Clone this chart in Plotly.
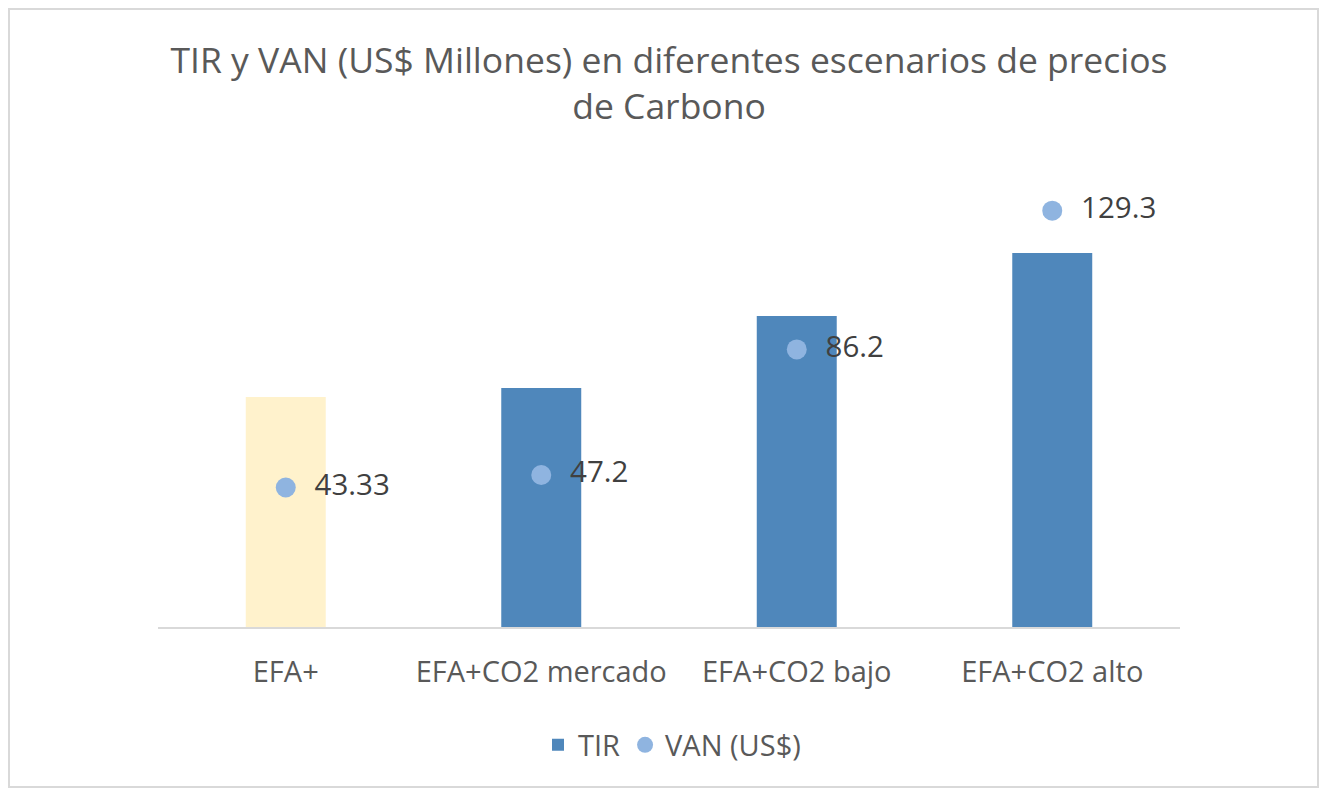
import plotly.graph_objects as go

categories = ["EFA+", "EFA+CO2 mercado", "EFA+CO2 bajo", "EFA+CO2 alto"]
tir_values = [11.5, 11.95, 15.55, 18.7]
van_values = [43.33, 47.2, 86.2, 129.3]
van_labels = ["\u00a0\u00a043.33", "\u00a0\u00a047.2", "\u00a0\u00a086.2", "\u00a0\u00a0129.3"]

# page offset from default body margin
OFF = 8
W, H = 1327 - 2 * OFF, 796 - 2 * OFF
ML = 158 - OFF
MT = 150 - OFF
PW = 1180 - 158
PH = 627 - 150
MR = W - ML - PW
MB = H - MT - PH

fig = go.Figure()
fig.add_trace(go.Bar(
    x=categories[:1], y=tir_values[:1], name="TIR", showlegend=False,
    marker=dict(color="#FFF2CC", line=dict(width=0)), yaxis="y",
))
fig.add_trace(go.Bar(
    x=categories[1:], y=tir_values[1:], name="TIR",
    marker=dict(color="#4F87BB", line=dict(width=0)), yaxis="y",
))
fig.add_trace(go.Scatter(
    x=categories, y=van_values, name="VAN (US$)", mode="markers+text",
    marker=dict(color="#8FB4E0", size=20, symbol="circle"),
    text=van_labels, textposition="middle right",
    textfont=dict(size=29.5, color="#404040", family="Open Sans"),
    yaxis="y2", cliponaxis=False,
))


def px_x(p):
    return (p - OFF - ML) / PW


def px_y(p):
    return (MT + PH - (p - OFF)) / PH


fig.update_layout(
    width=W, height=H,
    margin=dict(l=ML, r=MR, t=MT, b=MB),
    paper_bgcolor="white", plot_bgcolor="white",
    barmode="overlay", bargap=0.687,
    font=dict(family="Open Sans", color="#595959"),
    title=dict(
        text="TIR y VAN (US$ Millones) en diferentes escenarios de precios<br>de Carbono",
        x=0.5, xanchor="center", xref="paper",
        y=1 - (73 - OFF) / H, yanchor="middle",
        font=dict(size=35.5, color="#595959", family="Open Sans"),
    ),
    xaxis=dict(
        showline=True, linecolor="#D9D9D9", linewidth=2,
        showgrid=False, ticks="", tickfont=dict(size=29, color="#595959"),
        ticklabelstandoff=18,
    ),
    yaxis=dict(range=[0, PH / 20], visible=False, showgrid=False),
    yaxis2=dict(range=[0, PH / 3.22], visible=False, overlaying="y", side="right", showgrid=False),
    legend=dict(
        orientation="h", x=px_x(672), xanchor="center", y=px_y(745), yanchor="middle",
        font=dict(size=29, color="#595959"), itemwidth=30, traceorder="normal",
    ),
    shapes=[dict(
        type="rect", xref="paper", yref="paper",
        x0=px_x(OFF + 1), x1=px_x(1327 - OFF - 1), y0=px_y(796 - OFF - 1), y1=px_y(OFF + 1),
        line=dict(color="#D9D9D9", width=2), fillcolor="rgba(0,0,0,0)", layer="below",
    )],
    showlegend=True,
)

fig.write_html("out.html")
